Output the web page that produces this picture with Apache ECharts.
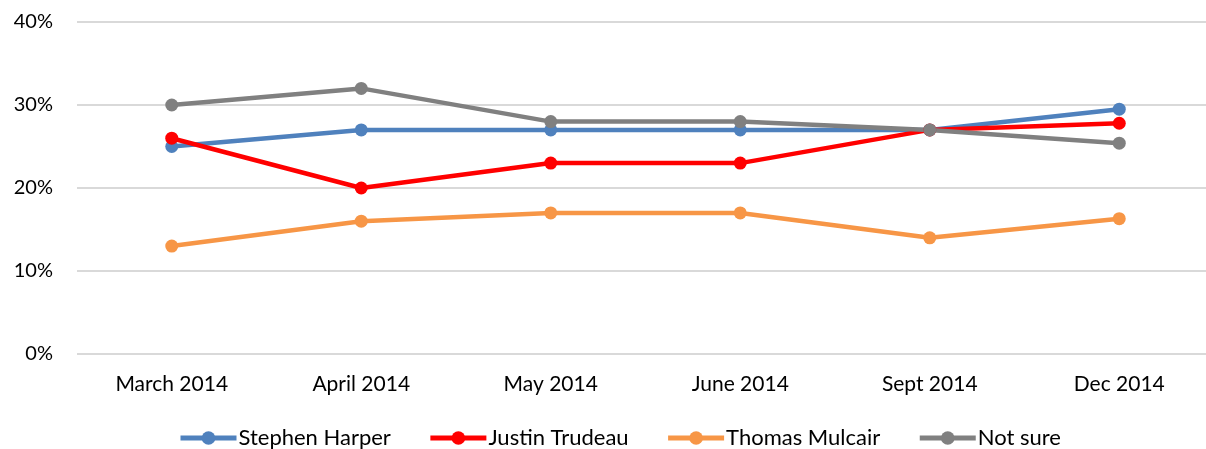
<!DOCTYPE html>
<html>
<head>
<meta charset="utf-8">
<script src="https://cdn.jsdelivr.net/npm/echarts@6/dist/echarts.min.js"></script>
<style>
  html, body { margin: 0; padding: 0; background: #fff; overflow: hidden; }
  #chart { width: 1214px; height: 449px; }
</style>
</head>
<body>
<div id="chart"></div>
<script>
var months = ['March 2014', 'April 2014', 'May 2014', 'June 2014', 'Sept 2014', 'Dec 2014'];
var harper = [25, 27, 27, 27, 27, 29.5];
var trudeau = [26, 20, 23, 23, 27, 27.8];
var mulcair = [13, 16, 17, 17, 14, 16.3];
var notSure = [30, 32, 28, 28, 27, 25.4];

var font = 'Lato';

function mkSeries(name, data, color) {
    return {
        name: name,
        type: 'line',
        data: data,
        symbol: 'circle',
        symbolSize: 13,
        lineStyle: { width: 4.5, color: color },
        itemStyle: { color: color },
        emphasis: { disabled: true }
    };
}

var myChart = echarts.init(document.getElementById('chart'));
var option = {
    animation: false,
    color: ['#4F81BD', '#FF0000', '#F79646', '#808080'],
    grid: { left: 77, right: 0, top: 22, bottom: 95 },
    legend: {
        top: 422,
        left: 173,
        itemWidth: 56,
        itemHeight: 17,
        itemGap: 37,
        lineStyle: { width: 5 },
        textStyle: { fontFamily: font, fontSize: 22, color: '#000', padding: [0, 0, 0, -3] },
        data: ['Stephen Harper', 'Justin Trudeau', 'Thomas Mulcair', 'Not sure']
    },
    xAxis: {
        type: 'category',
        data: months,
        axisLine: { show: false },
        axisTick: { show: false },
        axisLabel: { fontFamily: font, fontSize: 21, color: '#000', margin: 20 }
    },
    yAxis: {
        type: 'value',
        min: 0,
        max: 40,
        interval: 10,
        axisLabel: { fontFamily: font, fontSize: 20, color: '#000', margin: 24, formatter: '{value}%' },
        splitLine: { lineStyle: { color: '#D9D9D9', width: 2 } }
    },
    series: [
        mkSeries('Stephen Harper', harper, '#4F81BD'),
        mkSeries('Justin Trudeau', trudeau, '#FF0000'),
        mkSeries('Thomas Mulcair', mulcair, '#F79646'),
        mkSeries('Not sure', notSure, '#808080')
    ]
};
option && myChart.setOption(option);
</script>
</body>
</html>
